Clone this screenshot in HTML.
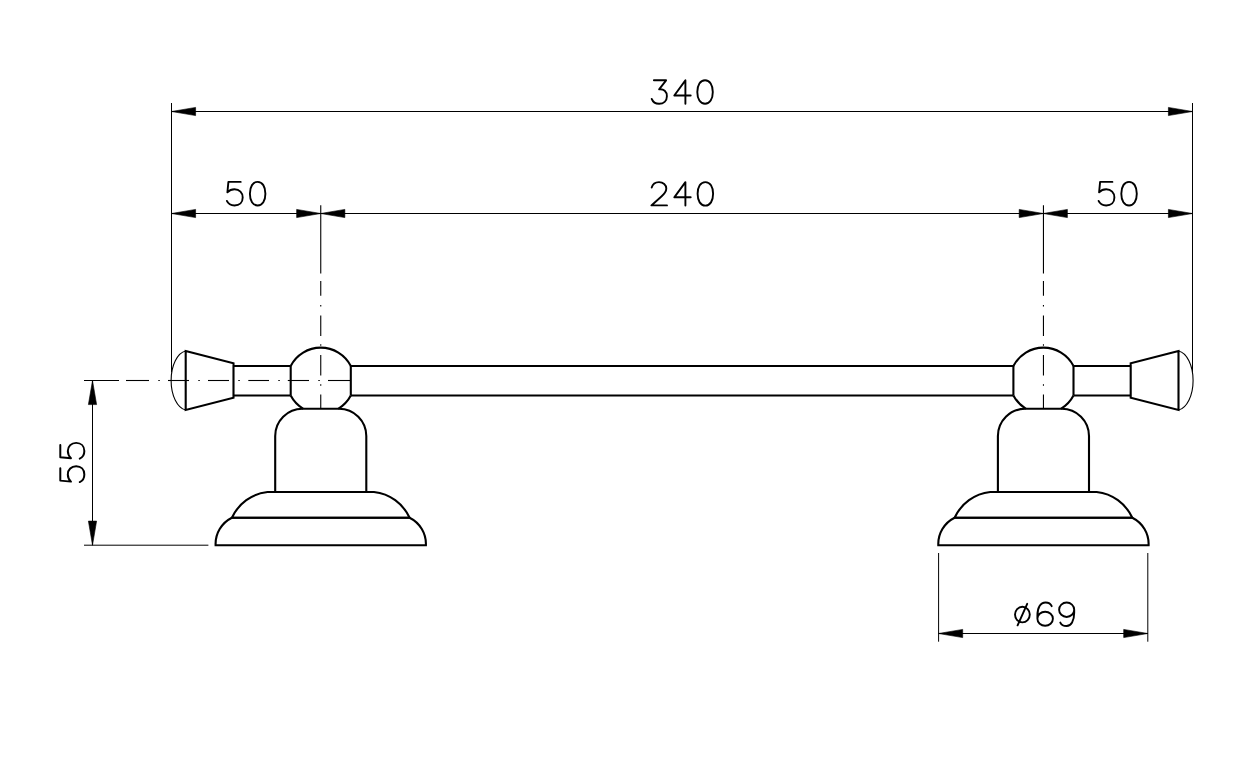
<!DOCTYPE html>
<html><head><meta charset="utf-8"><style>
html,body{margin:0;padding:0;background:#fff;}
svg{display:block;}
</style></head><body>
<svg width="1246" height="769" viewBox="0 0 1246 769">
<rect width="1246" height="769" fill="#fff"/>
<g fill="none" stroke="#000" stroke-linecap="butt">
<path d="M185.70,351 L233.50,363.2 L233.50,397.8 L185.70,410 Z" stroke-width="2.1" stroke-linejoin="miter"/>
<path d="M185.70,351 A16.5 29.7 0 0 0 185.70,410" stroke-width="1.1"/>
<line x1="233.50" y1="366.00" x2="290.70" y2="366.00" stroke-width="2.1"/>
<line x1="233.50" y1="395.50" x2="290.70" y2="395.50" stroke-width="2.1"/>
<path d="M290.70,366.0 A33.8 33.8 0 0 1 350.80,366.0" stroke-width="2.1"/>
<line x1="290.70" y1="366.00" x2="290.70" y2="395.50" stroke-width="2.1"/>
<line x1="350.80" y1="366.00" x2="350.80" y2="395.50" stroke-width="2.1"/>
<path d="M290.70,395.5 A33.8 33.8 0 0 0 303.30,408.8" stroke-width="2.1"/>
<path d="M350.80,395.5 A33.8 33.8 0 0 1 338.20,408.8" stroke-width="2.1"/>
<path d="M275.20,492.0 L275.20,436.10 A27.3 27.3 0 0 1 302.50,408.8 L339.00,408.8 A27.3 27.3 0 0 1 366.30,436.10 L366.30,492.0" stroke-width="2.1"/>
<path d="M231.90,517.8 A44.4 44.4 0 0 1 267.50,492.0 L374.00,492.0 A44.4 44.4 0 0 1 409.60,517.8 Z" stroke-width="2.1" stroke-linejoin="miter"/>
<path d="M215.60,545.2 A29.25 29.25 0 0 1 231.90,517.8 L409.60,517.8 A29.25 29.25 0 0 1 425.90,545.2 Z" stroke-width="2.1" stroke-linejoin="miter"/>
<line x1="320.75" y1="205.20" x2="320.75" y2="273.50" stroke-width="1.1"/>
<line x1="320.75" y1="281.00" x2="320.75" y2="295.70" stroke-width="1.1"/>
<line x1="320.75" y1="305.00" x2="320.75" y2="306.50" stroke-width="1.1"/>
<line x1="320.75" y1="315.60" x2="320.75" y2="336.00" stroke-width="1.1"/>
<line x1="320.75" y1="344.30" x2="320.75" y2="345.80" stroke-width="1.1"/>
<line x1="320.75" y1="355.00" x2="320.75" y2="375.40" stroke-width="1.1"/>
<line x1="320.75" y1="384.20" x2="320.75" y2="385.70" stroke-width="1.1"/>
<line x1="320.75" y1="394.60" x2="320.75" y2="408.80" stroke-width="1.1"/>
<path d="M1178.50,351 L1130.70,363.2 L1130.70,397.8 L1178.50,410 Z" stroke-width="2.1" stroke-linejoin="miter"/>
<path d="M1178.50,351 A16.5 29.7 0 0 1 1178.50,410" stroke-width="1.1"/>
<line x1="1130.70" y1="366.00" x2="1073.50" y2="366.00" stroke-width="2.1"/>
<line x1="1130.70" y1="395.50" x2="1073.50" y2="395.50" stroke-width="2.1"/>
<path d="M1073.50,366.0 A33.8 33.8 0 0 0 1013.40,366.0" stroke-width="2.1"/>
<line x1="1073.50" y1="366.00" x2="1073.50" y2="395.50" stroke-width="2.1"/>
<line x1="1013.40" y1="366.00" x2="1013.40" y2="395.50" stroke-width="2.1"/>
<path d="M1073.50,395.5 A33.8 33.8 0 0 1 1060.90,408.8" stroke-width="2.1"/>
<path d="M1013.40,395.5 A33.8 33.8 0 0 0 1026.00,408.8" stroke-width="2.1"/>
<path d="M1089.00,492.0 L1089.00,436.10 A27.3 27.3 0 0 0 1061.70,408.8 L1025.20,408.8 A27.3 27.3 0 0 0 997.90,436.10 L997.90,492.0" stroke-width="2.1"/>
<path d="M1132.30,517.8 A44.4 44.4 0 0 0 1096.70,492.0 L990.20,492.0 A44.4 44.4 0 0 0 954.60,517.8 Z" stroke-width="2.1" stroke-linejoin="miter"/>
<path d="M1148.60,545.2 A29.25 29.25 0 0 0 1132.30,517.8 L954.60,517.8 A29.25 29.25 0 0 0 938.30,545.2 Z" stroke-width="2.1" stroke-linejoin="miter"/>
<line x1="1043.45" y1="205.20" x2="1043.45" y2="273.50" stroke-width="1.1"/>
<line x1="1043.45" y1="281.00" x2="1043.45" y2="295.70" stroke-width="1.1"/>
<line x1="1043.45" y1="305.00" x2="1043.45" y2="306.50" stroke-width="1.1"/>
<line x1="1043.45" y1="315.60" x2="1043.45" y2="336.00" stroke-width="1.1"/>
<line x1="1043.45" y1="344.30" x2="1043.45" y2="345.80" stroke-width="1.1"/>
<line x1="1043.45" y1="355.00" x2="1043.45" y2="375.40" stroke-width="1.1"/>
<line x1="1043.45" y1="384.20" x2="1043.45" y2="385.70" stroke-width="1.1"/>
<line x1="1043.45" y1="394.60" x2="1043.45" y2="408.80" stroke-width="1.1"/>
<line x1="350.80" y1="366.00" x2="1013.40" y2="366.00" stroke-width="2.1"/>
<line x1="350.80" y1="395.50" x2="1013.40" y2="395.50" stroke-width="2.1"/>
<line x1="84.00" y1="380.50" x2="119.00" y2="380.50" stroke-width="1.1"/>
<line x1="126.00" y1="380.50" x2="149.00" y2="380.50" stroke-width="1.1"/>
<line x1="158.30" y1="380.50" x2="159.80" y2="380.50" stroke-width="1.1"/>
<line x1="168.00" y1="380.50" x2="189.00" y2="380.50" stroke-width="1.1"/>
<line x1="198.30" y1="380.50" x2="199.80" y2="380.50" stroke-width="1.1"/>
<line x1="208.00" y1="380.50" x2="229.00" y2="380.50" stroke-width="1.1"/>
<line x1="238.30" y1="380.50" x2="239.80" y2="380.50" stroke-width="1.1"/>
<line x1="248.30" y1="380.50" x2="269.00" y2="380.50" stroke-width="1.1"/>
<line x1="278.30" y1="380.50" x2="279.80" y2="380.50" stroke-width="1.1"/>
<line x1="287.80" y1="380.50" x2="309.00" y2="380.50" stroke-width="1.1"/>
<line x1="318.30" y1="380.50" x2="319.80" y2="380.50" stroke-width="1.1"/>
<line x1="328.00" y1="380.50" x2="350.50" y2="380.50" stroke-width="1.1"/>
<line x1="171.50" y1="103.00" x2="171.50" y2="372.30" stroke-width="1.0"/>
<line x1="1192.50" y1="103.00" x2="1192.50" y2="372.30" stroke-width="1.0"/>
<line x1="171.50" y1="111.50" x2="1192.50" y2="111.50" stroke-width="1.0"/>
<line x1="171.50" y1="213.50" x2="1192.50" y2="213.50" stroke-width="1.0"/>
<line x1="92.50" y1="380.50" x2="92.50" y2="545.20" stroke-width="1.0"/>
<line x1="84.00" y1="545.20" x2="208.40" y2="545.20" stroke-width="1.0"/>
<line x1="938.60" y1="553.00" x2="938.60" y2="641.70" stroke-width="1.0"/>
<line x1="1147.80" y1="553.00" x2="1147.80" y2="641.70" stroke-width="1.0"/>
<line x1="938.60" y1="633.50" x2="1147.80" y2="633.50" stroke-width="1.0"/>
</g>
<g>
<path d="M171.50,111.50 L195.60,107.40 L195.60,115.60 Z" fill="#000" stroke="#000" stroke-width="0.6" stroke-linejoin="miter"/>
<path d="M1192.50,111.50 L1168.40,115.60 L1168.40,107.40 Z" fill="#000" stroke="#000" stroke-width="0.6" stroke-linejoin="miter"/>
<path d="M171.50,213.50 L195.60,209.40 L195.60,217.60 Z" fill="#000" stroke="#000" stroke-width="0.6" stroke-linejoin="miter"/>
<path d="M320.75,213.50 L296.65,217.60 L296.65,209.40 Z" fill="#000" stroke="#000" stroke-width="0.6" stroke-linejoin="miter"/>
<path d="M320.75,213.50 L344.85,209.40 L344.85,217.60 Z" fill="#000" stroke="#000" stroke-width="0.6" stroke-linejoin="miter"/>
<path d="M1043.30,213.50 L1019.20,217.60 L1019.20,209.40 Z" fill="#000" stroke="#000" stroke-width="0.6" stroke-linejoin="miter"/>
<path d="M1043.30,213.50 L1067.40,209.40 L1067.40,217.60 Z" fill="#000" stroke="#000" stroke-width="0.6" stroke-linejoin="miter"/>
<path d="M1192.50,213.50 L1168.40,217.60 L1168.40,209.40 Z" fill="#000" stroke="#000" stroke-width="0.6" stroke-linejoin="miter"/>
<path d="M92.50,380.50 L96.60,404.60 L88.40,404.60 Z" fill="#000" stroke="#000" stroke-width="0.6" stroke-linejoin="miter"/>
<path d="M92.50,545.20 L88.40,521.10 L96.60,521.10 Z" fill="#000" stroke="#000" stroke-width="0.6" stroke-linejoin="miter"/>
<path d="M938.60,633.50 L962.70,629.40 L962.70,637.60 Z" fill="#000" stroke="#000" stroke-width="0.6" stroke-linejoin="miter"/>
<path d="M1147.80,633.50 L1123.70,637.60 L1123.70,629.40 Z" fill="#000" stroke="#000" stroke-width="0.6" stroke-linejoin="miter"/>
</g>
<g fill="none" stroke="#000" stroke-width="1.9" stroke-linecap="round" stroke-linejoin="round">
<path transform="translate(651.70,80.30) scale(1,1.022)" d="M2.2,0 L14.4,0 L7.4,8.8 C12,8.2 15.2,11 15.2,15.6 C15.2,20.2 11.8,23 7.4,23 C3.8,23 1.2,21.3 0,18.2"/>
<path transform="translate(674.30,80.30) scale(1,1.022)" d="M11.1,23 L11.1,0 L0,14.9 L16.4,14.9"/>
<path transform="translate(697.30,80.30) scale(1,1.022)" d="M7.75,0 C12.5,0 15.5,4.6 15.5,11.5 C15.5,18.4 12.5,23 7.75,23 C3,23 0,18.4 0,11.5 C0,4.6 3,0 7.75,0 Z"/>
<path transform="translate(651.40,182.10) scale(1,1.022)" d="M0.3,5.4 C1.2,2 4,0 7.6,0 C11.8,0 14.9,2.6 14.9,6.2 C14.9,9.2 13,11.4 10,14 L0,22.8 L15.6,22.8"/>
<path transform="translate(674.30,182.10) scale(1,1.022)" d="M11.1,23 L11.1,0 L0,14.9 L16.4,14.9"/>
<path transform="translate(697.60,182.10) scale(1,1.022)" d="M7.75,0 C12.5,0 15.5,4.6 15.5,11.5 C15.5,18.4 12.5,23 7.75,23 C3,23 0,18.4 0,11.5 C0,4.6 3,0 7.75,0 Z"/>
<path transform="translate(226.90,181.90) scale(1,1.022)" d="M13.8,0 L1.5,0 L0.5,10.2 C2.4,8.2 4.8,7.2 7.6,7.2 C12.6,7.2 15.8,10.6 15.8,15.2 C15.8,19.8 12.6,23 7.6,23 C4,23 1.3,21.5 0,18.6"/>
<path transform="translate(249.90,181.90) scale(1,1.022)" d="M7.75,0 C12.5,0 15.5,4.6 15.5,11.5 C15.5,18.4 12.5,23 7.75,23 C3,23 0,18.4 0,11.5 C0,4.6 3,0 7.75,0 Z"/>
<path transform="translate(1098.60,181.90) scale(1,1.022)" d="M13.8,0 L1.5,0 L0.5,10.2 C2.4,8.2 4.8,7.2 7.6,7.2 C12.6,7.2 15.8,10.6 15.8,15.2 C15.8,19.8 12.6,23 7.6,23 C4,23 1.3,21.5 0,18.6"/>
<path transform="translate(1121.30,181.90) scale(1,1.022)" d="M7.75,0 C12.5,0 15.5,4.6 15.5,11.5 C15.5,18.4 12.5,23 7.75,23 C3,23 0,18.4 0,11.5 C0,4.6 3,0 7.75,0 Z"/>
<path transform="translate(60.30,482.10) rotate(-90) scale(1,1.045)" d="M13.8,0 L1.5,0 L0.5,10.2 C2.4,8.2 4.8,7.2 7.6,7.2 C12.6,7.2 15.8,10.6 15.8,15.2 C15.8,19.8 12.6,23 7.6,23 C4,23 1.3,21.5 0,18.6"/>
<path transform="translate(60.30,458.70) rotate(-90) scale(1,1.045)" d="M13.8,0 L1.5,0 L0.5,10.2 C2.4,8.2 4.8,7.2 7.6,7.2 C12.6,7.2 15.8,10.6 15.8,15.2 C15.8,19.8 12.6,23 7.6,23 C4,23 1.3,21.5 0,18.6"/>
<ellipse cx="1022.4" cy="614.6" rx="7.4" ry="7.8"/>
<line x1="1027.20" y1="603.80" x2="1017.60" y2="625.30" stroke-width="1.9"/>
<path transform="translate(1037.40,602.50) scale(1,1.022)" d="M14.3,3.6 C13.3,1.3 11,0 8.2,0 C3,0 0,5 0,13 L0,16 M7.75,9 C12,9 15.5,12 15.5,15.85 C15.5,19.7 12,22.7 7.75,22.7 C3.5,22.7 0,19.7 0,15.85 C0,12 3.5,9 7.75,9 Z"/>
<path transform="translate(1059.10,602.50) scale(1,1.022)" d="M7.55,0 C11.7,0 15.1,3.1 15.1,7.05 C15.1,11 11.7,14.1 7.55,14.1 C3.4,14.1 0,11 0,7.05 C0,3.1 3.4,0 7.55,0 Z M15.1,7 L15.1,10 C15.1,18 12,23 7.5,23 C4.5,23 2.2,21.8 1.2,19.6"/>
</g>
</svg>
</body></html>
